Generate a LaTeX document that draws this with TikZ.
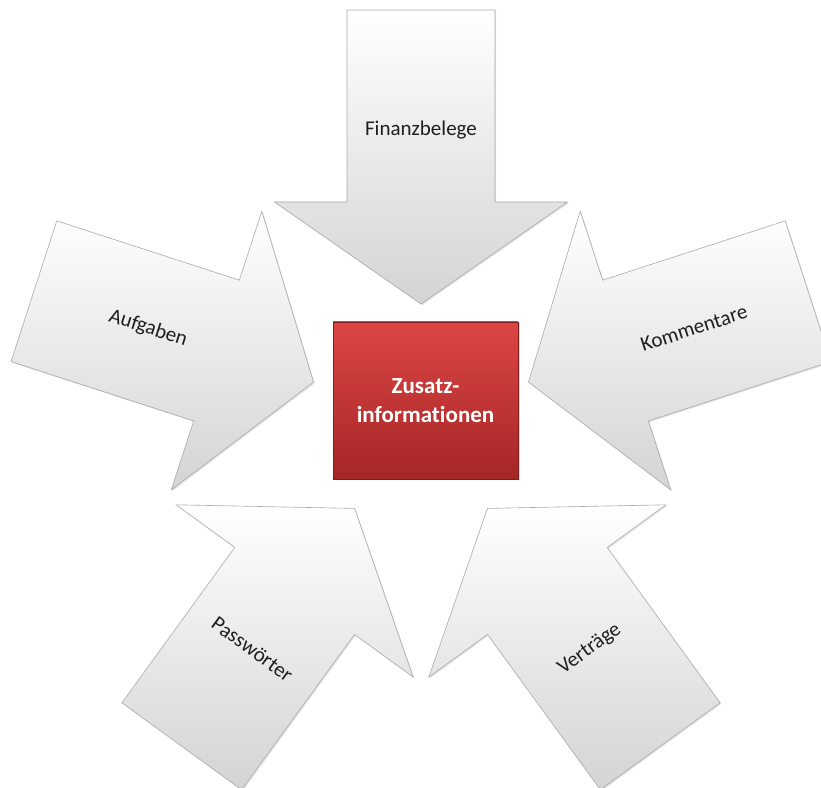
\documentclass[tikz,border=0pt]{standalone}
\usepackage{fontspec}
\setmainfont{Carlito}[Ligatures=NoCommon]
\usetikzlibrary{shadows}
\definecolor{boxtop}{RGB}{220,70,68}
\definecolor{boxbot}{RGB}{165,38,38}
\definecolor{boxedge}{RGB}{130,28,28}
\definecolor{arrowbot}{RGB}{212,212,212}
\definecolor{arrowedge}{RGB}{170,170,170}
\tikzset{
  arrowbox/.style={top color=white, bottom color=arrowbot, draw=arrowedge, line width=0.6pt, line join=miter,
    drop shadow={opacity=0.22, shadow xshift=1.2pt, shadow yshift=-1.2pt}},
  lbl/.style={font=\fontsize{21}{25}\selectfont, text=black!88, inner sep=0pt},
  centerbox/.style={top color=boxtop, bottom color=boxbot, draw=boxedge, line width=0.6pt,
    minimum width=185pt, minimum height=157pt, align=center, text=white,
    font=\fontsize{23}{29}\selectfont\bfseries,
    drop shadow={opacity=0.3, shadow xshift=1.5pt, shadow yshift=-1.5pt}}
}
\begin{document}
\begin{tikzpicture}[x=1pt,y=1pt]
\useasboundingbox (0,0) rectangle (821,787);
\def\arrowpath{(0,113) -- (146.5,215) -- (74,215) -- (74,407) -- (-74,407) -- (-74,215) -- (-146.5,215) -- cycle}
\foreach \r/\nm/\txt/\tr in {0/fin/Finanzbelege/0, 72/auf/Aufgaben/-18, 144/pas/Passwörter/-36, 216/ver/Verträge/36, 288/kom/Kommentare/18}{
  \begin{scope}[shift={(421,370)}, rotate=\r]
    \path[arrowbox] \arrowpath;
    \node[lbl, rotate=\tr] (\nm) at (0,287) {\txt};
  \end{scope}
}
\node[centerbox] (center) at (425.5,386.5) {Zusatz-\\informationen};
\end{tikzpicture}
\end{document}
